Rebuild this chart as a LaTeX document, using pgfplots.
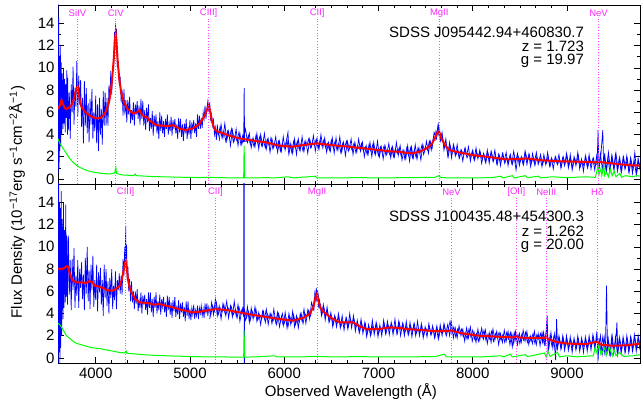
\documentclass[border=0pt]{standalone}
\usepackage{fontspec}
\setmainfont{Liberation Sans}
\usepackage{pgfplots}
\pgfplotsset{compat=1.18}
\definecolor{specblue}{RGB}{0,0,255}
\definecolor{specred}{RGB}{255,0,0}
\definecolor{specgreen}{RGB}{0,255,0}
\definecolor{linemag}{RGB}{255,70,255}
\definecolor{labmag}{RGB}{250,40,250}
\pgfplotsset{panel/.style={
  scale only axis, width=582bp, height=179bp,
  xmin=3600, xmax=9775, ymin=-0.45, ymax=15.65,
  xtick={4000,5000,...,9000}, minor x tick num=5,
  ytick={0,2,...,14}, minor y tick num=1,
  tick align=inside, major tick length=6bp, minor tick length=3bp,
  tick style={black, line width=0.6pt},
  axis line style={black, line width=0.8pt},
  ticklabel style={font=\fontsize{15bp}{18bp}\selectfont},
  xticklabel style={yshift=-2bp},
  /pgf/number format/assume math mode=true,
  /pgf/number format/1000 sep={},
  clip=true}}
\tikzset{
  blueline/.style={specblue, line width=0.7pt},
  redline/.style={specred, line width=2pt},
  greenline/.style={specgreen, line width=1pt},
  magline/.style={linemag, dotted, line width=0.8pt},
  maglab/.style={font=\fontsize{9.5bp}{9.5bp}\selectfont, text=labmag},
  infolab/.style={font=\fontsize{15bp}{18bp}\selectfont, anchor=base east, inner sep=0pt, text height=10.5bp, text depth=2.5bp}
}
\begin{document}
\begin{tikzpicture}
\useasboundingbox (-58bp,-42bp) rectangle (586bp,363bp);
% ---------------- top panel ----------------
\begin{axis}[panel, at={(0,179bp)}, anchor=south west, xticklabels={}]
\addplot[blueline, no marks] coordinates {(3600,15.8)(3604,0.5)(3608,14.5)(3612,1.0)(3616,11)(3620,2.5)(3625,12)(3630,3.0)(3635,10.5)(3640,4.0)(3646,9.5)(3652,4.5)(3658,10.0)(3664,5.0)(3670,9.0)(3676,4.2)(3682,8.5)(3688,5.5)(3694,9.8)(3700,4.0)(3703,9.1)
(3710,4.4)(3720,7.8)(3730,3.6)(3740,8.5)(3750,6.0)(3760,10.1)(3770,4.9)(3780,8.2)(3790,6.5)(3800,10.6)(3810,5.6)(3820,9.3)(3830,6.7)(3840,8.9)(3850,4.7)(3860,7.3)(3870,3.2)(3880,8.8)(3890,4.8)(3900,8.2)(3910,4.1)(3920,6.8)(3930,3.3)(3940,7.2)(3950,4.9)(3960,8.1)(3970,3.6)(3980,6.0)(3990,4.3)(4000,7.5)(4010,3.2)(4020,6.7)(4030,2.5)(4040,7.3)(4050,4.0)(4060,6.3)(4070,3.1)(4080,7.9)(4090,4.8)(4100,7.8)(4110,4.8)(4120,7.3)(4130,4.8)(4140,8.4)(4150,7.2)(4160,9.7)(4170,7.6)(4180,9.9)(4190,10.0)(4200,13.2)(4205,12.0)(4210,14.0)(4215,12.4)(4220,13.5)(4230,10.0)(4240,10.6)(4250,8.5)(4260,9.2)(4270,6.9)(4280,8.0)(4290,5.7)(4300,8.1)(4310,5.8)(4320,7.1)(4330,5.1)(4340,7.1)(4350,5.8)(4360,7.4)(4370,5.0)(4380,6.2)(4390,5.3)(4400,6.9)(4410,4.8)(4420,6.7)(4430,5.8)(4440,7.0)(4450,5.4)(4460,6.6)(4470,4.9)(4480,7.2)(4490,5.4)(4500,7.0)(4510,4.8)(4520,6.2)(4530,4.4)(4540,6.4)(4550,5.1)(4560,6.7)(4570,4.3)(4580,5.5)(4590,4.5)(4600,6.1)(4610,3.9)(4620,5.7)(4630,4.7)(4640,5.8)(4650,4.1)(4660,5.2)(4670,3.6)(4680,6.0)(4690,4.3)(4700,5.7)(4710,4.1)(4720,5.2)(4730,3.8)(4740,5.4)(4750,4.5)(4760,5.8)(4770,4.0)(4780,5.0)(4790,4.3)(4800,5.6)(4810,3.9)(4820,5.3)(4830,4.5)(4840,5.4)(4850,4.1)(4860,4.9)(4870,3.6)(4880,5.5)(4890,4.2)(4900,5.4)(4910,3.8)(4920,4.9)(4930,3.4)(4940,5.0)(4950,4.1)(4960,5.4)(4970,3.6)(4980,4.7)(4990,4.0)(5000,5.3)(5010,3.6)(5020,5.1)(5030,4.4)(5040,5.3)(5050,4.1)(5060,5.0)(5070,3.8)(5080,5.8)(5090,4.5)(5100,5.7)(5110,4.5)(5120,5.5)(5130,4.6)(5140,6.0)(5150,5.4)(5160,6.6)(5170,5.4)(5180,6.4)(5190,7.0)(5200,6.1)(5210,6.9)(5220,5.2)(5230,5.8)(5240,4.8)(5250,5.3)(5260,4.0)(5270,4.6)(5280,3.5)(5290,4.9)(5300,3.9)
(5320,4.7)(5340,3.7)(5360,4.3)(5380,3.4)(5400,4.3)(5420,3.7)(5440,4.5)(5460,3.3)(5480,3.9)(5500,3.4)(5520,4.2)(5540,3.1)(5560,3.9)(5570,3.3)(5575,8.2)(5580,3.4)(5600,3.4)(5620,3.9)(5640,3.1)(5660,3.6)(5680,2.9)(5700,3.9)(5720,3.2)(5740,3.8)(5760,3.0)(5780,3.5)(5800,2.8)(5820,3.6)(5840,3.0)(5860,3.7)(5880,2.7)(5900,3.2)(5920,2.8)(5940,3.4)(5960,2.5)(5980,3.2)(6000,2.8)(6020,3.3)(6040,4.2)(6050,2.6)(6060,3.1)(6080,2.4)(6100,3.4)(6120,2.8)(6140,3.4)(6160,2.6)(6180,3.2)(6200,2.5)(6220,3.4)(6240,3.0)(6260,3.6)(6280,2.8)(6300,3.3)(6320,3.0)(6340,3.6)(6360,2.7)(6380,3.5)(6400,3.0)(6420,3.5)(6440,2.8)(6460,3.2)(6480,2.6)(6500,3.5)(6520,2.8)(6540,3.4)(6560,2.6)(6580,3.2)(6600,2.4)(6620,3.2)(6640,2.8)(6660,3.4)(6680,2.5)(6700,3.0)(6720,2.6)(6740,3.2)(6760,2.4)(6780,3.0)(6800,2.7)(6820,3.2)(6840,2.5)(6860,2.9)(6880,2.2)(6900,3.1)(6920,2.5)(6940,3.1)(6960,2.3)(6980,2.8)(7000,2.1)(7020,2.9)(7040,2.4)(7060,3.0)(7080,2.1)(7100,2.6)(7120,2.2)(7140,2.8)(7160,2.0)(7180,2.7)(7200,2.3)(7220,2.8)(7240,2.1)(7260,2.6)(7280,1.8)(7300,2.8)(7320,2.1)(7340,2.8)(7360,1.9)(7380,2.6)(7400,1.9)(7420,2.8)(7440,2.3)(7460,3.0)(7480,2.2)(7500,2.9)(7520,2.6)(7540,3.4)(7560,2.6)(7580,3.6)(7600,3.5)(7610,4.3)(7620,4.0)(7630,4.7)(7640,4.0)(7650,4.4)(7660,3.4)(7680,3.8)(7700,2.8)(7720,3.0)(7740,2.0)(7760,3.0)(7780,2.3)(7800,3.0)(7820,2.1)(7840,2.6)(7860,1.9)(7880,2.6)(7900,2.2)(7920,2.8)(7940,1.9)(7960,2.3)(7980,2.0)(8000,2.6)(8020,1.7)(8040,2.4)(8060,2.0)(8080,2.4)(8100,1.8)(8120,2.2)(8140,1.5)(8160,2.4)(8180,1.8)(8200,2.4)(8220,1.6)(8240,2.1)(8260,1.3)(8280,2.2)(8300,1.6)(8320,2.3)(8340,1.4)(8360,1.9)(8380,1.5)(8400,2.2)(8420,1.3)(8440,2.0)(8460,0.8)(8480,2.1)(8500,1.5)(8520,2.0)(8540,1.3)(8560,2.4)(8580,1.6)(8600,2.2)(8620,1.4)(8640,1.9)(8660,1.2)(8680,2.0)(8700,1.5)(8720,2.2)(8740,1.3)(8760,1.8)(8780,1.4)(8800,2.0)(8820,1.1)(8840,1.8)(8860,1.5)(8880,2.0)(8900,1.3)(8920,1.8)(8940,1.1)(8960,2.0)(8980,1.4)(9000,2.1)(9020,1.2)(9040,1.8)(9060,1.0)(9080,1.9)(9100,1.4)(9120,2.1)(9140,1.1)(9160,1.6)(9180,1.2)(9200,2.0)(9220,1.0)(9240,1.8)(9260,1.4)(9280,1.9)(9300,1.2)(9320,1.4)(9330,4.4)(9340,0.9)(9360,2.2)(9380,4.4)(9390,0.8)(9400,2.3)(9420,0.7)(9440,2.4)(9460,1.0)(9480,2.0)(9500,0.8)(9520,2.3)(9540,0.9)(9560,1.9)(9580,0.7)(9600,2.0)(9620,1.0)(9640,1.8)(9660,0.6)(9680,1.7)(9700,0.9)(9720,2.4)(9740,0.5)(9760,1.6)(9780,1.0)};
\addplot[blueline, no marks] coordinates {(5310,3.4)(5330,4.9)(5350,3.7)(5370,5.0)(5390,3.4)(5410,4.3)(5430,3.0)(5450,4.4)(5470,3.5)(5490,4.5)(5510,3.0)(5530,4.1)(5550,3.1)(5590,4.5)(5610,3.3)(5630,4.1)(5650,2.8)(5670,3.7)(5690,2.9)(5710,4.1)(5730,2.7)(5750,4.0)(5770,3.0)(5790,4.1)(5810,2.7)(5830,3.6)(5850,2.4)(5870,3.6)(5890,2.9)(5910,3.8)(5930,2.4)(5950,3.4)(5970,2.5)(5990,3.8)(6010,2.6)(6030,3.5)(6050,2.2)(6070,3.2)(6090,2.3)(6110,3.6)(6130,2.2)(6150,3.6)(6170,2.6)(6190,3.8)(6210,2.5)(6230,3.4)(6250,2.3)(6270,3.6)(6290,2.9)(6310,3.9)(6330,2.5)(6350,3.6)(6370,2.7)(6390,4.0)(6410,2.8)(6430,3.7)(6450,2.4)(6470,3.3)(6490,2.5)(6510,3.7)(6530,2.3)(6550,3.7)(6570,2.6)(6590,3.8)(6610,2.4)(6630,3.3)(6650,2.1)(6670,3.4)(6690,2.7)(6710,3.6)(6730,2.2)(6750,3.3)(6770,2.4)(6790,3.6)(6810,2.5)(6830,3.3)(6850,2.0)(6870,3.0)(6890,2.2)(6910,3.3)(6930,2.0)(6950,3.3)(6970,2.2)(6990,3.4)(7010,2.0)(7030,2.9)(7050,1.8)(7070,3.0)(7090,2.3)(7110,3.2)(7130,1.9)(7150,2.9)(7170,2.0)(7190,3.3)(7210,2.1)(7230,3.0)(7250,1.7)(7270,2.6)(7290,1.8)(7310,3.0)(7330,1.6)(7350,2.9)(7370,1.9)(7390,3.1)(7410,1.8)(7430,2.8)(7450,1.7)(7470,3.1)(7490,2.5)(7510,3.4)(7530,2.3)(7550,3.4)(7570,2.8)(7590,4.2)(7615,3.6)(7635,4.9)(7655,3.5)(7675,4.2)(7695,2.6)(7715,3.6)(7735,2.1)(7755,3.3)(7775,1.9)(7795,3.1)(7815,2.1)(7835,3.1)(7855,1.9)(7875,2.6)(7895,1.6)(7915,2.7)(7935,2.1)(7955,2.9)(7975,1.6)(7995,2.5)(8015,1.7)(8035,2.8)(8055,1.8)(8075,2.6)(8095,1.4)(8115,2.3)(8135,1.5)(8155,2.6)(8175,1.4)(8195,2.5)(8215,1.6)(8235,2.6)(8255,1.4)(8275,2.2)(8295,1.2)(8315,2.3)(8335,1.6)(8355,2.4)(8375,1.2)(8395,2.1)(8415,1.4)(8435,2.5)(8455,1.5)(8475,2.3)(8495,1.2)(8515,2.0)(8535,1.3)(8555,2.5)(8575,1.3)(8595,2.2)(8615,1.1)(8635,2.3)(8655,1.5)(8675,2.4)(8695,1.3)(8715,1.9)(8735,1.1)(8755,2.2)(8775,1.3)(8795,2.4)(8815,1.2)(8835,1.9)(8855,0.9)(8875,2.0)(8895,1.4)(8915,2.2)(8935,1.0)(8955,1.9)(8975,1.2)(8995,2.3)(9015,1.0)(9035,2.2)(9055,0.8)(9075,2.0)(9095,1.2)(9115,2.4)(9135,0.9)(9155,1.8)(9175,0.7)(9195,2.1)(9215,1.1)(9235,2.2)(9255,0.9)(9275,1.8)(9295,0.8)(9315,2.1)(9335,0.7)(9355,2.3)(9375,0.9)(9395,2.1)(9415,0.7)(9435,1.9)(9455,0.6)(9475,2.1)(9495,1.0)(9515,2.2)(9535,0.7)(9555,1.9)(9575,0.6)(9595,1.9)(9615,0.9)(9635,2.1)(9655,0.7)(9675,1.9)(9695,0.5)(9715,1.6)(9735,0.4)(9755,1.9)(9775,0.8)};
\addplot[greenline, no marks] coordinates {(3600,3.6)(3620,3.2)(3650,2.8)(3689,2.3)(3720,1.9)(3760,1.5)(3795,1.25)(3830,1.05)(3870,0.9)(3910,0.75)(3955,0.65)(4000,0.58)(4050,0.52)(4100,0.47)(4148,0.45)(4180,0.5)(4200,0.55)(4210,0.9)(4215,1.0)(4220,0.5)(4260,0.4)(4300,0.35)(4360,0.33)(4400,0.3)(4420,0.45)(4430,0.3)(4500,0.27)(4600,0.22)(4700,0.2)(4800,0.18)(4900,0.16)(5000,0.14)(5100,0.13)(5200,0.15)(5300,0.12)(5400,0.11)(5500,0.1)(5570,0.1)(5575,3.0)(5580,0.1)(5700,0.1)(5800,0.12)(5900,0.1)(6040,0.2)(6100,0.1)(6330,0.25)(6350,0.1)(6500,0.1)(6800,0.12)(7000,0.1)(7300,0.12)(7600,0.15)(7640,0.3)(7660,0.12)(7800,0.1)(8000,0.1)(8200,0.12)(8300,0.25)(8320,0.1)(8420,0.3)(8440,0.1)(8560,0.3)(8580,0.12)(8700,0.25)(8720,0.1)(8850,0.2)(9000,0.12)(9200,0.2)(9300,0.15)(9320,0.8)(9330,1.2)(9340,0.4)(9360,0.9)(9370,0.3)(9390,1.3)(9400,0.3)(9420,0.6)(9440,0.2)(9460,0.9)(9480,0.3)(9500,0.7)(9520,0.2)(9560,0.5)(9580,0.15)(9620,0.3)(9700,0.2)(9740,0.3)(9780,0.25)};
\addplot[redline, no marks] coordinates {(3600,6.3)(3620,6.6)(3636,7.1)(3650,6.8)(3670,6.4)(3689,6.3)(3710,6.4)(3740,6.6)(3765,7.1)(3785,7.8)(3800,8.2)(3810,8.3)(3822,7.6)(3835,6.9)(3848,6.5)(3880,6.1)(3920,5.8)(3960,5.6)(4007,5.45)(4050,5.5)(4080,5.7)(4110,6.1)(4135,6.7)(4150,7.3)(4170,8.6)(4190,10.6)(4203,12.4)(4212,13.1)(4220,12.4)(4233,10.6)(4250,9.0)(4272,7.7)(4300,6.9)(4340,6.3)(4396,5.9)(4440,6.0)(4466,6.2)(4490,5.8)(4515,5.6)(4537,5.6)(4580,5.2)(4643,4.85)(4700,4.8)(4760,4.75)(4800,4.8)(4820,4.85)(4850,4.7)(4900,4.5)(4962,4.4)(5030,4.55)(5080,4.8)(5103,5.0)(5150,5.6)(5180,6.2)(5198,6.55)(5212,6.2)(5230,5.3)(5255,4.6)(5280,4.3)(5320,4.2)(5400,3.95)(5500,3.7)(5633,3.5)(5800,3.3)(5950,3.0)(6090,2.9)(6200,3.05)(6350,3.2)(6450,3.1)(6560,3.0)(6693,2.9)(6850,2.75)(7012,2.6)(7100,2.5)(7224,2.45)(7298,2.35)(7362,2.3)(7450,2.5)(7520,2.8)(7570,3.2)(7605,3.8)(7630,4.25)(7648,4.15)(7670,3.6)(7710,3.0)(7754,2.6)(7850,2.4)(8000,2.15)(8150,2.0)(8358,1.77)(8500,1.8)(8580,1.85)(8708,1.7)(8900,1.6)(9130,1.55)(9300,1.5)(9330,1.55)(9480,1.4)(9650,1.25)(9780,1.2)};
\addplot[magline, no marks] coordinates {(3806,-0.45)(3806,14.5)};
\addplot[magline, no marks] coordinates {(4212,-0.45)(4212,14.5)};
\addplot[magline, no marks] coordinates {(5198,-0.45)(5198,14.5)};
\addplot[magline, no marks] coordinates {(6350,-0.45)(6350,14.5)};
\addplot[magline, no marks] coordinates {(7645,-0.45)(7645,14.5)};
\addplot[magline, no marks] coordinates {(9335,-0.45)(9335,14.5)};
\node[maglab] at (3806,14.95) {SiIV};
\node[maglab] at (4212,14.95) {CIV};
\node[maglab] at (5198,14.95) {CIII]};
\node[maglab] at (6350,14.95) {CII]};
\node[maglab] at (7645,14.95) {MgII};
\node[maglab] at (9335,14.95) {NeV};
\node[infolab] at (rel axis cs:0.904,0.820) {SDSS J095442.94+460830.7};
\node[infolab] at (rel axis cs:0.904,0.739) {z = 1.723};
\node[infolab] at (rel axis cs:0.904,0.667) {g = 19.97};
\end{axis}
% ---------------- bottom panel ----------------
\begin{axis}[panel, at={(0,0)}, anchor=south west]
\addplot[blueline, no marks] coordinates {(3600,15.8)(3604,-0.6)(3608,15.8)(3612,0.5)(3616,14.0)(3620,-0.5)(3625,13.5)(3630,1.0)(3635,15.0)(3640,2.0)(3646,12.5)(3652,3.5)(3658,14.0)(3664,4.5)(3670,11.5)(3676,5.0)(3682,13.8)(3688,5.5)(3694,11.0)(3700,4.8)(3710,11.0)(3720,5.7)(3730,8.8)(3740,4.3)(3750,8.9)(3760,6.1)(3770,9.9)(3780,4.5)(3790,7.4)(3800,5.6)(3810,8.8)(3820,4.5)(3830,8.0)(3840,6.3)(3850,8.6)(3860,5.3)(3870,7.5)(3880,4.3)(3890,9.0)(3900,5.8)(3910,10.0)(3920,5.1)(3930,7.9)(3940,4.4)(3950,8.4)(3960,6.1)(3970,9.2)(3980,4.6)(3990,7.0)(4000,5.2)(4010,8.4)(4020,4.2)(4030,7.7)(4040,5.9)(4050,8.1)(4060,4.8)(4070,7.0)(4080,3.8)(4090,8.4)(4100,5.4)(4110,8.0)(4120,4.7)(4130,6.9)(4140,4.0)(4150,7.2)(4160,5.4)(4170,8.0)(4180,4.4)(4190,6.5)(4200,5.2)(4210,7.8)(4220,4.4)(4230,7.0)(4240,6.1)(4250,7.6)(4260,5.8)(4270,7.4)(4280,5.7)(4290,8.9)(4300,7.4)(4308,10.0)(4314,8.3)(4318,11.9)(4322,8.9)(4328,10.2)(4335,7.0)(4342,8.2)(4350,6.0)(4360,7.1)(4370,5.1)(4380,6.9)(4390,5.0)(4400,6.0)(4410,4.4)(4420,6.0)(4430,4.9)(4440,6.2)(4450,4.2)(4460,5.2)(4470,4.5)(4480,5.9)(4490,4.0)(4500,5.6)(4510,4.8)(4520,5.7)(4530,4.3)(4540,5.3)(4550,3.9)(4560,5.9)(4570,4.5)(4580,5.9)(4590,4.1)(4600,5.3)(4610,3.7)(4620,5.5)(4630,4.5)(4640,5.9)(4650,4.0)(4660,5.1)(4670,4.3)(4680,5.7)(4690,3.9)(4700,5.3)(4710,4.6)(4720,5.5)(4730,4.1)(4740,5.0)(4750,3.7)(4760,5.6)(4770,4.3)(4780,5.5)(4790,3.9)(4800,5.0)(4810,3.6)(4820,5.2)(4830,4.2)(4840,5.5)(4850,3.7)(4860,4.7)(4870,3.9)(4880,5.2)(4890,3.5)(4900,4.9)(4910,4.1)(4920,5.0)(4930,3.7)(4940,4.6)(4950,3.3)(4960,5.1)(4970,3.8)(4980,5.1)(4990,3.5)(5000,4.4)(5010,3.4)(5020,4.5)(5030,3.9)(5040,4.8)(5050,3.5)(5060,4.3)(5070,3.8)(5080,4.7)(5090,3.5)(5100,4.5)(5110,4.0)(5120,4.7)(5130,3.8)(5140,4.4)(5150,3.6)(5160,4.9)(5170,4.0)(5180,4.9)(5190,3.8)(5200,4.6)(5220,3.8)(5240,4.7)(5260,4.2)(5280,5.0)(5300,3.9)(5320,4.5)(5340,4.1)(5360,4.8)(5380,3.8)(5400,4.6)(5420,4.2)(5440,4.6)(5460,3.9)(5480,4.3)(5500,3.6)(5520,4.6)(5540,3.9)(5560,4.5)(5570,3.7)(5575,40)(5577,-5)(5580,4.3)(5600,3.6)(5620,4.2)(5640,3.4)(5660,4.2)(5680,3.7)(5700,4.4)(5720,3.4)(5740,3.9)(5760,3.5)(5780,4.2)(5800,3.2)(5820,4.0)(5840,3.6)(5860,4.0)(5880,3.3)(5900,3.7)(5920,3.0)(5940,4.0)(5960,3.3)(5980,4.0)(6000,3.1)(6020,3.6)(6040,2.8)(6060,3.7)(6080,3.2)(6100,3.9)(6120,3.0)(6140,3.6)(6160,3.2)(6180,4.0)(6200,3.1)(6220,4.0)(6240,3.7)(6260,4.3)(6280,3.8)(6300,4.6)(6310,4.4)(6320,5.4)(6330,5.2)(6340,6.3)(6350,5.4)(6360,5.7)(6370,4.5)(6385,4.8)(6400,3.9)(6420,4.6)(6440,3.8)(6460,4.2)(6480,3.3)(6500,3.8)(6520,3.0)(6540,3.7)(6560,3.1)(6580,3.7)(6600,2.8)(6620,3.3)(6640,3.0)(6660,3.6)(6680,2.8)(6700,3.5)(6720,3.1)(6740,3.5)(6760,2.8)(6780,3.1)(6800,2.3)(6820,3.2)(6840,2.5)(6860,3.1)(6880,2.2)(6900,2.8)(6920,2.1)(6940,2.9)(6960,2.4)(6980,3.1)(7000,2.2)(7020,2.7)(7040,2.4)(7060,3.1)(7080,2.2)(7100,3.0)(7120,2.6)(7140,3.1)(7160,2.4)(7180,2.9)(7200,2.2)(7220,3.2)(7240,2.5)(7260,3.1)(7280,2.3)(7300,2.8)(7320,2.1)(7340,2.9)(7360,2.4)(7380,3.1)(7400,2.2)(7420,2.6)(7440,2.3)(7460,2.9)(7480,2.0)(7500,2.7)(7520,2.4)(7540,2.8)(7560,2.1)(7580,2.6)(7600,1.9)(7620,2.9)(7640,1.8)(7660,2.7)(7680,2.3)(7700,2.9)(7720,2.0)(7740,2.6)(7760,3.3)(7780,2.2)(7800,2.8)(7820,1.9)(7840,2.6)(7860,2.2)(7880,2.6)(7900,1.9)(7920,2.3)(7940,1.7)(7960,2.6)(7980,1.9)(8000,2.5)(8020,1.7)(8040,2.2)(8060,1.5)(8080,2.3)(8100,1.8)(8120,2.5)(8140,1.6)(8160,2.1)(8180,1.7)(8200,2.4)(8220,1.5)(8240,2.2)(8260,1.8)(8280,2.3)(8300,1.6)(8320,2.1)(8340,1.4)(8360,2.3)(8380,1.7)(8400,2.3)(8420,1.0)(8440,2.3)(8460,1.5)(8480,2.1)(8500,1.3)(8520,2.1)(8540,1.6)(8560,2.3)(8580,1.4)(8600,1.9)(8620,1.5)(8640,2.2)(8660,1.3)(8680,2.1)(8700,1.7)(8720,2.2)(8740,1.4)(8752,2.3)(8770,1.3)(8790,3.8)(8800,0.5)(8820,2.0)(8840,1.1)(8860,1.9)(8880,-0.2)(8890,3.5)(8900,0.9)(8920,1.8)(8940,0.9)(8960,1.8)(8980,1.0)(9000,1.7)(9020,0.9)(9040,1.7)(9060,1.0)(9080,1.6)(9100,0.9)(9120,1.7)(9140,0.9)(9160,1.6)(9180,1.0)(9200,1.7)(9220,0.9)(9240,1.7)(9260,1.1)(9280,1.9)(9300,1.0)(9320,2.0)(9330,-0.3)(9340,1.8)(9360,0.6)(9380,1.9)(9400,0.5)(9410,1.5)(9420,6.5)(9430,0.4)(9440,1.6)(9460,0.3)(9480,2.0)(9500,0.6)(9520,1.7)(9530,3.2)(9540,0.4)(9560,1.8)(9580,0.7)(9600,1.7)(9620,0.6)(9640,1.7)(9660,0.7)(9680,1.8)(9700,0.8)(9720,1.9)(9740,0.8)(9760,1.8)(9780,1.0)};
\addplot[blueline, no marks] coordinates {(5210,3.5)(5230,5.0)(5250,3.9)(5270,5.3)(5290,3.8)(5310,4.7)(5330,3.5)(5350,4.9)(5370,4.1)(5390,5.1)(5410,3.6)(5430,4.7)(5450,3.7)(5470,5.1)(5490,3.8)(5510,4.8)(5530,3.3)(5550,4.3)(5590,3.4)(5610,4.6)(5630,3.2)(5650,4.5)(5670,3.5)(5690,4.6)(5710,3.3)(5730,4.1)(5750,3.0)(5770,4.2)(5790,3.5)(5810,4.4)(5830,3.0)(5850,4.0)(5870,3.1)(5890,4.4)(5910,3.2)(5930,4.1)(5950,2.8)(5970,3.7)(5990,2.9)(6010,4.1)(6030,2.7)(6050,4.0)(6070,3.0)(6090,4.2)(6110,2.8)(6130,3.8)(6150,2.7)(6170,4.0)(6190,3.3)(6210,4.4)(6230,3.1)(6250,4.3)(6270,3.5)(6290,5.0)(6315,4.3)(6325,5.9)(6345,5.2)(6355,6.1)(6365,4.6)(6375,5.2)(6395,3.8)(6415,4.8)(6435,3.4)(6455,4.6)(6475,3.2)(6495,4.1)(6515,2.8)(6535,3.8)(6555,2.8)(6575,4.0)(6595,2.7)(6615,3.8)(6635,2.5)(6655,3.6)(6675,2.6)(6695,4.0)(6715,2.7)(6735,3.8)(6755,2.4)(6775,3.4)(6795,2.3)(6815,3.5)(6835,2.2)(6855,3.2)(6875,1.9)(6895,3.0)(6915,2.0)(6935,3.4)(6955,2.1)(6975,3.2)(6995,1.9)(7015,3.0)(7035,2.0)(7055,3.4)(7075,2.2)(7095,3.3)(7115,2.1)(7135,3.2)(7155,2.1)(7175,3.5)(7195,2.2)(7215,3.3)(7235,2.0)(7255,3.1)(7275,2.0)(7295,3.3)(7315,2.1)(7335,3.2)(7355,1.9)(7375,3.0)(7395,2.0)(7415,3.3)(7435,2.0)(7455,3.1)(7475,1.8)(7495,2.8)(7515,1.9)(7535,3.1)(7555,2.1)(7575,2.9)(7595,1.8)(7615,2.7)(7635,1.7)(7655,3.0)(7675,2.0)(7695,3.1)(7715,2.2)(7735,3.0)(7755,2.0)(7775,3.2)(7795,1.8)(7815,2.7)(7835,1.8)(7855,2.9)(7875,2.0)(7895,2.6)(7915,1.5)(7935,2.7)(7955,1.8)(7975,2.8)(7995,1.5)(8015,2.3)(8035,1.4)(8055,2.6)(8075,1.6)(8095,2.7)(8115,1.7)(8135,2.5)(8155,1.3)(8175,2.3)(8195,1.4)(8215,2.6)(8235,1.6)(8255,2.4)(8275,1.2)(8295,2.2)(8315,1.4)(8335,2.5)(8355,1.5)(8375,2.4)(8395,1.2)(8415,2.2)(8435,1.3)(8455,2.4)(8475,1.2)(8495,2.2)(8515,1.4)(8535,2.5)(8555,1.5)(8575,2.4)(8595,1.2)(8615,2.0)(8635,1.3)(8655,2.4)(8675,1.2)(8695,2.2)(8715,1.1)(8735,2.3)(8760,1.2)(8785,2.6)(8810,1.0)(8830,2.3)(8850,0.9)(8870,2.2)(8895,0.8)(8915,2.0)(8935,0.8)(8955,2.0)(8975,0.7)(8995,2.0)(9015,0.7)(9035,1.9)(9055,0.5)(9075,1.8)(9095,0.7)(9115,2.0)(9135,0.6)(9155,1.8)(9175,0.5)(9195,1.9)(9215,0.6)(9235,2.0)(9255,0.7)(9275,2.1)(9295,0.8)(9315,2.2)(9335,0.5)(9355,2.0)(9375,0.4)(9395,1.9)(9415,0.3)(9435,2.0)(9455,0.2)(9475,1.9)(9495,0.4)(9515,1.9)(9535,0.3)(9555,1.8)(9575,0.4)(9595,1.9)(9615,0.5)(9635,2.0)(9655,0.5)(9675,1.9)(9695,0.6)(9715,2.1)(9735,0.6)(9755,2.0)(9775,0.7)};
\addplot[greenline, no marks] coordinates {(3600,3.1)(3620,3.0)(3650,2.6)(3689,2.0)(3720,1.8)(3760,1.5)(3800,1.3)(3848,1.2)(3900,1.05)(3950,0.95)(4000,0.88)(4042,0.85)(4100,0.75)(4180,0.62)(4250,0.5)(4318,0.45)(4325,0.6)(4335,0.42)(4400,0.38)(4500,0.3)(4600,0.25)(4750,0.2)(4900,0.16)(5000,0.13)(5200,0.1)(5300,0.1)(5500,0.08)(5570,0.08)(5575,2.45)(5580,0.08)(5700,0.1)(5900,0.2)(5920,0.1)(6200,0.1)(6340,0.15)(6500,0.1)(6800,0.12)(7000,0.1)(7200,0.1)(7600,0.12)(7700,0.35)(7720,0.1)(7900,0.1)(8100,0.1)(8300,0.2)(8330,0.1)(8400,0.35)(8420,0.1)(8560,0.3)(8580,0.12)(8760,0.45)(8780,0.1)(8800,0.6)(8820,0.15)(8900,0.5)(8920,0.1)(9000,0.2)(9100,0.1)(9280,0.2)(9300,1.0)(9320,0.4)(9340,1.2)(9360,0.3)(9400,0.9)(9420,0.3)(9450,1.0)(9480,0.2)(9500,0.8)(9520,0.2)(9560,0.5)(9600,0.15)(9700,0.2)(9780,0.3)};
\addplot[redline, no marks] coordinates {(3600,8.05)(3640,8.0)(3670,8.1)(3690,8.25)(3707,8.2)(3725,7.6)(3750,7.0)(3795,6.8)(3850,6.8)(3901,6.75)(3930,6.9)(3960,6.85)(3989,6.5)(4020,6.45)(4042,6.4)(4080,6.3)(4120,6.1)(4183,6.05)(4230,6.3)(4254,6.5)(4275,7.0)(4295,7.8)(4310,8.5)(4318,8.7)(4328,8.2)(4342,7.1)(4360,6.3)(4378,5.9)(4420,5.3)(4466,5.0)(4550,4.95)(4620,4.8)(4679,4.85)(4720,4.75)(4820,4.55)(4900,4.35)(5032,4.1)(5100,4.15)(5200,4.3)(5280,4.4)(5400,4.3)(5527,4.1)(5650,3.9)(5800,3.7)(5951,3.5)(6092,3.35)(6200,3.6)(6269,3.95)(6310,4.6)(6335,5.55)(6347,5.75)(6360,5.2)(6385,4.5)(6410,4.2)(6500,3.6)(6590,3.2)(6680,3.2)(6731,3.2)(6800,2.85)(6872,2.6)(7000,2.6)(7119,2.75)(7224,2.7)(7300,2.6)(7402,2.55)(7542,2.45)(7648,2.4)(7750,2.45)(7772,2.5)(7800,2.4)(7900,2.2)(8072,2.0)(8300,1.9)(8440,1.85)(8460,1.95)(8480,1.85)(8600,1.8)(8760,1.8)(8780,1.9)(8800,1.7)(8886,1.45)(9000,1.3)(9204,1.25)(9280,1.4)(9322,1.45)(9360,1.2)(9486,1.1)(9650,1.15)(9780,1.3)};
\addplot[magline, no marks] coordinates {(4318,-0.45)(4318,14.45)};
\addplot[magline, no marks] coordinates {(5271,-0.45)(5271,14.45)};
\addplot[magline, no marks] coordinates {(6349,-0.45)(6349,14.45)};
\addplot[magline, no marks] coordinates {(7775,-0.45)(7775,14.45)};
\addplot[magline, no marks] coordinates {(8463,-0.45)(8463,14.45)};
\addplot[magline, no marks] coordinates {(8781,-0.45)(8781,14.45)};
\addplot[magline, no marks] coordinates {(9322,-0.45)(9322,14.45)};
\node[maglab] at (4318,14.9) {CIII]};
\node[maglab] at (5271,14.9) {CII]};
\node[maglab] at (6349,14.9) {MgII};
\node[maglab] at (7775,14.9) {NeV};
\node[maglab] at (8463,14.9) {[OII]};
\node[maglab] at (8781,14.9) {NeIII};
\node[maglab] at (9322,14.9) {Hδ};
\node[infolab] at (rel axis cs:0.904,0.789) {SDSS J100435.48+454300.3};
\node[infolab] at (rel axis cs:0.904,0.709) {z = 1.262};
\node[infolab] at (rel axis cs:0.904,0.633) {g = 20.00};
\end{axis}
\node[rotate=90, font=\fontsize{15bp}{18bp}\selectfont] at (-41bp,161bp) {Flux Density (10\textsuperscript{−17}erg s\textsuperscript{−1}cm\textsuperscript{−2}Å\textsuperscript{−1})};
\node[font=\fontsize{15bp}{18bp}\selectfont] at (293bp,-29bp) {Observed Wavelength (Å)};
\end{tikzpicture}
\end{document}
